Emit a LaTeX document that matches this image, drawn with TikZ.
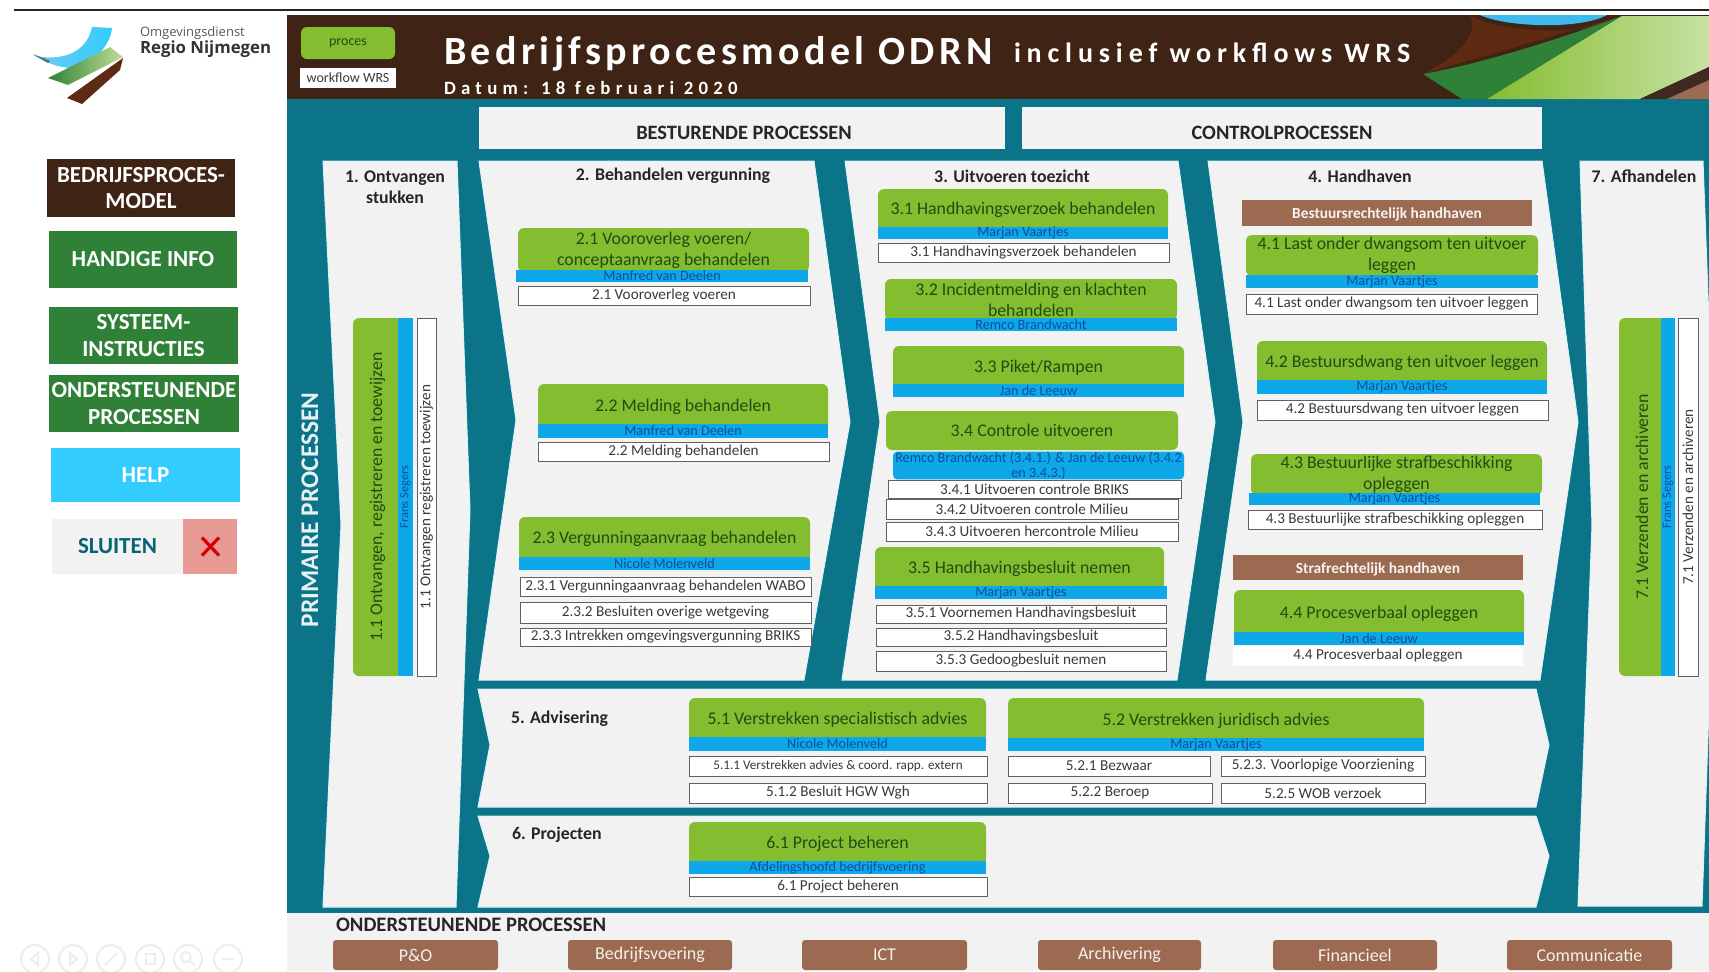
\documentclass[tikz,border=0pt]{standalone}
\usepackage{fontspec}
\setmainfont{Carlito}
\newfontfamily\ttlfont[LetterSpace=11]{Carlito}
\newfontfamily\ttlfontb[LetterSpace=21]{Carlito}
\newfontfamily\ttlfontc[LetterSpace=28]{Carlito}
\newfontfamily\logofont{Open Sans}
\usetikzlibrary{shadings}
\definecolor{teal1}{HTML}{0B7488}
\definecolor{dbrown}{HTML}{3F2314}
\definecolor{pgreen}{HTML}{84BD30}
\definecolor{pblue}{HTML}{0EA7E8}
\definecolor{gtext}{HTML}{1F4D12}
\definecolor{btext}{HTML}{0A4FA0}
\definecolor{wtext}{HTML}{3A3A3A}
\definecolor{panel}{HTML}{F2F2F2}
\definecolor{rbrown}{HTML}{9B6A50}
\definecolor{lbrown}{HTML}{5E2A12}
\definecolor{sgreen}{HTML}{2F8137}
\definecolor{shelp}{HTML}{33CCFF}
\definecolor{edge}{HTML}{D5F3F8}
\definecolor{xred}{HTML}{E79A94}
\tikzset{
 x=0.5pt,y=-0.5pt,
 base/.style={inner sep=0pt,outer sep=0pt,align=center,rectangle},
 gbox/.style={base,fill=pgreen,rounded corners=3pt,text=gtext,font=\fontsize{8.9}{10.5}\selectfont},
 bbox/.style={base,fill=pblue,text=btext,font=\fontsize{7.1}{7.6}\selectfont},
 vbbox/.style={bbox,font=\fontsize{6.2}{7}\selectfont},
 wbox/.style={base,fill=white,draw=gray!75!black,line width=0.4pt,text=wtext,font=\fontsize{7.6}{9}\selectfont},
 side/.style={base,text=white,font=\bfseries\fontsize{11.5}{13.2}\selectfont},
 rbox/.style={base,fill=rbrown,rounded corners=1.5pt,text=white!90!rbrown,font=\fontsize{9}{10}\selectfont},
 sub/.style={base,fill=rbrown},
 subtext/.style={base,text=white!92!rbrown,font=\bfseries\fontsize{7.7}{9}\selectfont},
 ptitle/.style={base,text=black!85,font=\bfseries\fontsize{8.9}{10.5}\selectfont},
 hbox/.style={base,fill=panel},
 htext/.style={base,text=black!85,font=\bfseries\fontsize{10.2}{12}\selectfont},
 shape panel/.style={fill=panel,draw=edge,line width=0.5pt},
 icon/.style={draw=black!7,line width=1pt,fill=none},
}
% name, style, x1, y1, x2, y2, text
\newcommand{\bx}[7]{%
 \pgfmathsetmacro{\mycx}{(#3+#5)/2}\pgfmathsetmacro{\mycy}{(#4+#6)/2}%
 \pgfmathsetmacro{\mywd}{(#5-(#3))*0.5}\pgfmathsetmacro{\myht}{(#6-(#4))*0.5}%
 \node[#2,minimum width=\mywd pt,minimum height=\myht pt] (#1) at (\mycx,\mycy) {#7};}
% same, text and box turned a quarter
\newcommand{\vx}[7]{%
 \pgfmathsetmacro{\mycx}{(#3+#5)/2}\pgfmathsetmacro{\mycy}{(#4+#6)/2}%
 \pgfmathsetmacro{\mywd}{(#6-(#4))*0.5}\pgfmathsetmacro{\myht}{(#5-(#3))*0.5}%
 \node[#2,rotate=90,minimum width=\mywd pt,minimum height=\myht pt] (#1) at (\mycx,\mycy) {#7};}
% green box whose lower part is hidden by the blue bar: text sits a little lower
\newcommand{\gx}[6]{\bx{#1}{gbox}{#2}{#3}{#4}{#5+4}{#6}}
\begin{document}
\begin{tikzpicture}
\useasboundingbox (0,0) rectangle (1709,971);
\fill[white] (0,0) rectangle (1709,971);
% top rule
\fill[black!85] (14,9) rectangle (1709,11);
% backgrounds
\fill[teal1] (287,99) rectangle (1709,913);
\fill[dbrown] (287,15) rectangle (1709,99);
\fill[panel] (287,913) rectangle (1709,971);
% header decoration
\fill[lbrown] (1470,15) .. controls (1490,30) and (1585,40) .. (1622,16) -- (1423,74) .. controls (1450,60) and (1480,40) .. cycle;
\fill[pblue!80!white] (1480,15) .. controls (1505,27) and (1580,30) .. (1607,15) -- cycle;
\fill[sgreen] (1423,74) .. controls (1490,62) and (1570,35) .. (1622,16) -- (1487,99) -- (1462,99) -- cycle;
\shade[left color=pgreen,right color=pgreen!45!white] (1622,16) -- (1709,16) -- (1709,67) -- (1640,99) -- (1487,99) -- cycle;
\fill[black!60!rbrown] (1640,99) -- (1709,67) -- (1709,99) -- cycle;
\fill[rbrown] (1667,99) -- (1709,80) -- (1709,99) -- cycle;
% panels
\fill[shape panel] (323,161) -- (457,161) -- (470,510) -- (456,907) -- (323,907) -- (341,525) -- cycle;
\fill[shape panel] (479,161) -- (814,161) -- (850,422) -- (804,680) -- (479,680) -- (516,420) -- cycle;
\fill[shape panel] (845,161) -- (1178,161) -- (1215,422) -- (1177,680) -- (842,680) -- (880,422) -- cycle;
\fill[shape panel] (1208,161) -- (1542,161) -- (1578,422) -- (1540,680) -- (1206,680) -- (1243,422) -- cycle;
\fill[shape panel] (1580,161) -- (1703,161) -- (1716,510) -- (1702,906) -- (1578,906) -- (1592,525) -- cycle;
\fill[shape panel] (478,689) -- (1536,689) -- (1549,745) -- (1536,807) -- (478,807) -- (490,745) -- cycle;
\fill[shape panel] (478,816) -- (1536,816) -- (1549,856) -- (1536,907) -- (478,907) -- (490,856) -- cycle;
\bx{besturend}{hbox}{479}{107}{1005}{149}{}
\node[htext] (besturendt) at (744,133) {BESTURENDE PROCESSEN};
\bx{control}{hbox}{1022}{107}{1542}{149}{}
\node[htext] (controlt) at (1282,133) {CONTROLPROCESSEN};
% logo
\shade[left color=pblue!60!white,right color=shelp] (92,27) -- (112,28) .. controls (110,46) and (95,62) .. (73,68) .. controls (58,68) and (45,62) .. (33,55) .. controls (50,60) and (85,60) .. cycle;
\fill[black!60] (33,54) -- (50,61) -- (48,63) -- cycle;
\shade[left color=sgreen,right color=pgreen!50!white] (48,78) -- (110,47) -- (123,57) -- (68,85) -- cycle;
\fill[lbrown] (67,98) -- (123,58) -- (120,70) -- (82,104) -- cycle;
\node[base,anchor=west,text=black!65,font=\logofont\fontsize{6.5}{8}\selectfont] (logo1) at (140,33) {Omgevingsdienst};
\node[base,anchor=west,text=black!80,font=\logofont\bfseries\fontsize{8.4}{10}\selectfont] (logo2) at (140,49) {Regio Nijmegen};
% sidebar
\bx{s1}{side,fill=dbrown}{47}{159}{235}{217}{BEDRIJFSPROCES-\\MODEL}
\bx{s2}{side,fill=sgreen}{49}{231}{237}{288}{HANDIGE INFO}
\bx{s3}{side,fill=sgreen}{49}{307}{238}{364}{SYSTEEM-\\INSTRUCTIES}
\bx{s4}{side,fill=sgreen}{49}{375}{239}{432}{ONDERSTEUNENDE\\PROCESSEN}
\bx{s5}{side,fill=shelp}{51}{448}{240}{502}{HELP}
\bx{s6}{side,fill=panel,text=teal1!85!black}{52}{519}{183}{574}{SLUITEN}
\bx{s7}{base,fill=xred}{183}{519}{237}{574}{}
\draw[red!85!black,line width=1.6pt] (s7.center) ++(-8,-9) -- ++(17,18) (s7.center) ++(9,-9) -- ++(-17,18);
% legend
\bx{leg1}{gbox,font=\fontsize{7}{8}\selectfont}{301}{27}{395}{59}{proces}
\bx{leg2}{wbox,draw=none,font=\fontsize{7}{8}\selectfont}{300}{68}{396}{88}{workflow WRS}
% titles
\node[base,anchor=base west,text=white,font=\ttlfont\bfseries\fontsize{20}{24}\selectfont] (title) at (444,64) {Bedrijfsprocesmodel ODRN};
\node[base,anchor=base west,text=white,font=\ttlfontb\bfseries\fontsize{14}{16}\selectfont] (title2) at (1014,62) {inclusief workflows WRS};
\node[base,anchor=base west,text=white,font=\ttlfontc\bfseries\fontsize{9.4}{11}\selectfont] (title3) at (444,94) {Datum: 18 februari 2020};
\node[base,rotate=90,text=white!90!teal1,font=\bfseries\fontsize{12.7}{14}\selectfont] (prim) at (310,510) {PRIMAIRE PROCESSEN};
% section headings
\node[ptitle] (h1) at (395,187) {1. Ontvangen\\stukken};
\node[ptitle] (h2) at (673,176) {2. Behandelen vergunning};
\node[ptitle] (h3) at (1012,176) {3. Uitvoeren toezicht};
\node[ptitle] (h4) at (1360,176) {4. Handhaven};
\node[ptitle] (h7) at (1644,176) {7. Afhandelen};
\node[ptitle,anchor=west] (h5) at (511,719) {5. Advisering};
\node[ptitle,anchor=west] (h6) at (512,835) {6. Projecten};
% column 1
\vx{g11}{gbox}{353}{318}{402}{676}{1.1 Ontvangen, registreren en toewijzen}
\vx{b11}{vbbox}{398}{318}{413}{676}{Frans Segers}
\vx{w11}{wbox}{417}{318}{436}{676}{1.1 Ontvangen registreren toewijzen}
% column 2
\bx{g21}{gbox}{518}{228}{809}{272}{2.1 Vooroverleg voeren/\\conceptaanvraag behandelen}
\bx{b21}{bbox}{516}{270}{808}{282}{Manfred van Deelen}
\bx{w21}{wbox}{518}{286}{810}{305}{2.1 Vooroverleg voeren}
\gx{g22}{538}{384}{828}{425}{2.2 Melding behandelen}
\bx{b22}{bbox}{538}{424}{828}{438}{Manfred van Deelen}
\bx{w22}{wbox}{538}{442}{829}{461}{2.2 Melding behandelen}
\gx{g23}{519}{517}{810}{557}{2.3 Vergunningaanvraag behandelen}
\bx{b23}{bbox}{519}{557}{810}{570}{Nicole Molenveld}
\bx{w231}{wbox}{520}{577}{811}{596}{2.3.1 Vergunningaanvraag behandelen WABO}
\bx{w232}{wbox}{520}{602}{811}{623}{2.3.2 Besluiten overige wetgeving}
\bx{w233}{wbox}{520}{628}{811}{646}{2.3.3 Intrekken omgevingsvergunning BRIKS}
% column 3
\gx{g31}{878}{189}{1168}{227}{3.1 Handhavingsverzoek behandelen}
\bx{b31}{bbox}{878}{227}{1168}{239}{Marjan Vaartjes}
\bx{w31}{wbox}{878}{243}{1169}{262}{3.1 Handhavingsverzoek behandelen}
\bx{g32}{gbox}{885}{279}{1177}{320}{3.2 Incidentmelding en klachten\\behandelen}
\bx{b32}{bbox}{885}{318}{1177}{331}{Remco Brandwacht}
\gx{g33}{893}{346}{1184}{385}{3.3 Piket/Rampen}
\bx{b33}{bbox}{893}{384}{1184}{397}{Jan de Leeuw}
\bx{g34}{gbox}{886}{411}{1178}{450}{3.4 Controle uitvoeren}
\bx{b34}{bbox,rounded corners=2pt}{893}{452}{1184}{479}{Remco Brandwacht (3.4.1.) \& Jan de Leeuw (3.4.2\\en 3.4.3.)}
\bx{w341}{wbox}{888}{480}{1181}{498}{3.4.1 Uitvoeren controle BRIKS}
\bx{w342}{wbox}{886}{499}{1178}{519}{3.4.2 Uitvoeren controle Milieu}
\bx{w343}{wbox}{886}{522}{1178}{541}{3.4.3 Uitvoeren hercontrole Milieu}
\gx{g35}{875}{547}{1164}{587}{3.5 Handhavingsbesluit nemen}
\bx{b35}{bbox}{875}{586}{1167}{599}{Marjan Vaartjes}
\bx{w351}{wbox}{876}{605}{1166}{623}{3.5.1 Voornemen Handhavingsbesluit}
\bx{w352}{wbox}{876}{628}{1166}{646}{3.5.2 Handhavingsbesluit}
\bx{w353}{wbox}{876}{651}{1166}{671}{3.5.3 Gedoogbesluit nemen}
% column 4
\bx{t41}{sub}{1242}{200}{1532}{226}{}
\node[subtext] (t41t) at (1387,214) {Bestuursrechtelijk handhaven};
\bx{g41}{gbox}{1246}{235}{1538}{276}{4.1 Last onder dwangsom ten uitvoer\\leggen}
\bx{b41}{bbox}{1246}{275}{1538}{288}{Marjan Vaartjes}
\bx{w41}{wbox}{1246}{294}{1537}{314}{4.1 Last onder dwangsom ten uitvoer leggen}
\gx{g42}{1257}{341}{1547}{381}{4.2 Bestuursdwang ten uitvoer leggen}
\bx{b42}{bbox}{1257}{380}{1547}{394}{Marjan Vaartjes}
\bx{w42}{wbox}{1257}{400}{1548}{420}{4.2 Bestuursdwang ten uitvoer leggen}
\bx{g43}{gbox}{1251}{454}{1542}{495}{4.3 Bestuurlijke strafbeschikking\\opleggen}
\bx{b43}{bbox}{1249}{493}{1540}{505}{Marjan Vaartjes}
\bx{w43}{wbox}{1248}{510}{1542}{529}{4.3 Bestuurlijke strafbeschikking opleggen}
\bx{t44}{sub}{1233}{555}{1523}{580}{}
\node[subtext] (t44t) at (1378,569) {Strafrechtelijk handhaven};
\gx{g44}{1234}{590}{1524}{633}{4.4 Procesverbaal opleggen}
\bx{b44}{bbox}{1234}{632}{1524}{645}{Jan de Leeuw}
\bx{w44}{wbox,draw=none}{1233}{646}{1523}{666}{4.4 Procesverbaal opleggen}
% column 7
\vx{g71}{gbox}{1619}{318}{1665}{676}{7.1 Verzenden en archiveren}
\vx{b71}{vbbox}{1661}{318}{1675}{676}{Frans Segers}
\vx{w71}{wbox}{1678}{318}{1698}{676}{7.1 Verzenden en archiveren}
% advisering
\gx{g51}{689}{698}{986}{738}{5.1 Verstrekken specialistisch advies}
\bx{b51}{bbox}{689}{737}{986}{751}{Nicole Molenveld}
\bx{w511}{wbox,font=\fontsize{6.6}{8}\selectfont}{689}{756}{987}{776}{5.1.1 Verstrekken advies \& coord. rapp. extern}
\bx{w512}{wbox}{689}{783}{987}{803}{5.1.2 Besluit HGW Wgh}
\gx{g52}{1008}{698}{1424}{739}{5.2 Verstrekken juridisch advies}
\bx{b52}{bbox}{1008}{738}{1424}{751}{Marjan Vaartjes}
\bx{w521}{wbox}{1008}{756}{1210}{776}{5.2.1 Bezwaar}
\bx{w523}{wbox}{1221}{756}{1425}{776}{5.2.3. Voorlopige Voorziening}
\bx{w522}{wbox}{1008}{783}{1212}{803}{5.2.2 Beroep}
\bx{w525}{wbox}{1221}{783}{1425}{803}{5.2.5 WOB verzoek}
% projecten
\gx{g61}{689}{822}{986}{862}{6.1 Project beheren}
\bx{b61}{bbox}{689}{861}{986}{874}{Afdelingshoofd bedrijfsvoering}
\bx{w61}{wbox}{689}{877}{987}{896}{6.1 Project beheren}
% support
\node[base,anchor=west,text=black!85,font=\bfseries\fontsize{10.3}{12}\selectfont] (hsup) at (336,925) {ONDERSTEUNENDE PROCESSEN};
\bx{r1}{rbox}{333}{940}{498}{970}{P\&O}
\bx{r2}{rbox}{568}{940}{732}{970}{Bedrijfsvoering}
\bx{r3}{rbox}{802}{940}{967}{970}{ICT}
\bx{r4}{rbox}{1038}{940}{1201}{970}{Archivering}
\bx{r5}{rbox}{1273}{940}{1437}{970}{Financieel}
\bx{r6}{rbox}{1507}{940}{1672}{970}{Communicatie}
% viewer icons
\foreach \ix in {35,73,111,150,188,228}{\draw[icon] (\ix,959) circle (14);}
\draw[icon] (38,953) -- (31,959) -- (38,965) -- cycle;
\draw[icon] (70,953) -- (77,959) -- (70,965) -- cycle;
\draw[icon] (105,965) -- (117,953);
\draw[icon] (146,954) rectangle (155,964);
\draw[icon] (186,957) circle (5) (190,961) -- (195,966);
\draw[icon] (222,959) -- (234,959);
\end{tikzpicture}
\end{document}
